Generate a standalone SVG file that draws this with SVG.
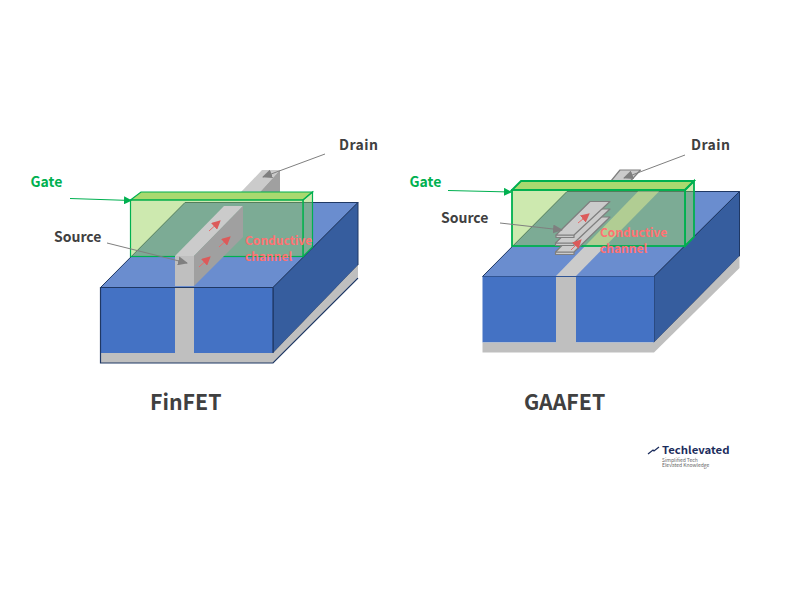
<svg xmlns="http://www.w3.org/2000/svg" width="795" height="592" viewBox="0 0 795 592">
<style>
text{font-family:"Noto Sans CJK KR","Noto Sans","Liberation Sans",sans-serif;font-weight:700}
.lab{font-size:14px;fill:#404040}
.green{font-size:14px;fill:#00b050}
.red{font-size:12px;fill:#ff7272}
.title{font-size:21.300px;fill:#404040}
.front{fill:#4472c4}
.top{fill:#6a8dcf;stroke:#1f3864;stroke-width:1}
.right{fill:#365d9e;stroke:#1f3864;stroke-width:1}
.gray{fill:#bfbfbf}
.edge{fill:none;stroke:#1f3864;stroke-width:1.2}
.gfill{fill:#92d050;fill-opacity:.46;stroke:#00b050;stroke-width:1.2}
.gtop{fill:#a9d96f;stroke:#00b050;stroke-width:1.2}
.ftop{fill:#cbcbcb}
.fside{fill:#a0a0a0}
.sheet{fill:#cbcbcb;stroke:#7f7f7f;stroke-width:1.2;stroke-linejoin:round}
.a-gray{fill:none;stroke:#7f7f7f;stroke-width:1;marker-end:url(#mg)}
.a-green{fill:none;stroke:#00b050;stroke-width:1;marker-end:url(#mn)}
.a-red{fill:none;stroke:#e96a6a;stroke-width:1;marker-end:url(#mr)}
</style>
<defs>
<marker id="mg" markerWidth="10" markerHeight="9" refX="9" refY="4.500" orient="auto" markerUnits="userSpaceOnUse"><path d="M0 0L10 4.500L0 9Z" fill="#7f7f7f"/></marker>
<marker id="mn" markerWidth="8" markerHeight="8" refX="7" refY="4" orient="auto" markerUnits="userSpaceOnUse"><path d="M0 0L8 4L0 8Z" fill="#00b050"/></marker>
<marker id="mr" markerWidth="9" markerHeight="9" refX="8" refY="4.500" orient="auto" markerUnits="userSpaceOnUse"><path d="M0 0L9 4.500L0 9Z" fill="#dc5a5a"/></marker>
</defs>
<rect width="795" height="592" fill="#ffffff"/>

<g id="finfet-substrate">
<polygon class="top" points="100.5,287.500 273,287.500 358,202.5 185,202.5"/>
<polygon class="right" points="273,287.500 358,202.5 358,265 273,353"/>
<polygon class="gray" points="273,353 358,265 358,277 273,363"/>
<rect class="front" x="100.5" y="287.500" width="172.5" height="65.500"/>
<rect class="gray" x="100.5" y="353" width="172.5" height="10"/>
<rect class="gray" x="175" y="288" width="19" height="66"/>
<polyline class="edge" points="273,353 273,287.500 100.5,287.500 100.5,363 273,363 358,278"/>
</g>
<g id="finfet-drain">
<polygon class="ftop" points="262,170 280,170 260,192 241,192"/>
<polygon class="fside" points="280,170 280,192 260,192"/>
</g>
<g id="finfet-gate">
<polygon class="gtop" points="130.5,200 141,192 312.5,192 303,200"/>
<polygon class="gfill" points="303,200 312.5,192 312.5,247 303,256.5"/>
<rect class="gfill" x="130.5" y="200" width="172.5" height="56.5"/>
</g>
<g id="finfet-source">
<polygon class="ftop" points="175,256 194,256 243,206 224,206"/>
<polygon class="fside" points="194,256 243,206 243,237 194,286"/>
<rect class="gray" x="175" y="256" width="19" height="30"/>
</g>

<g id="gaafet-substrate">
<polygon class="top" points="482.5,276.500 654,276.500 739.5,191.5 567,191.5"/>
<polygon class="right" points="654,276.500 739.5,191.5 739.5,256 654,342.5"/>
<polygon class="gray" points="654,342.5 739.5,256 739.5,268 654,352.5"/>
<rect class="front" x="482.5" y="276.500" width="171.500" height="66"/>
<rect class="gray" x="482.5" y="342.500" width="171.500" height="10"/>
<polygon fill="#cbcbcb" points="556,276 576,276 659,191.500 638,191.500"/>
<rect class="gray" x="556" y="277" width="20" height="66"/>
</g>
<g id="gaafet-drain">
<polygon class="sheet" points="620,170 640.500,170 630.500,181 611,181"/>
</g>
<g id="gaafet-gate">
<polygon class="gtop" style="stroke-width:1.8" points="512,190 521,181 694,181 685,190"/>
<polygon class="gfill" style="stroke-width:1.8" points="685,190 694,181 694,237 685,246"/>
<rect class="gfill" style="stroke-width:1.8" x="512" y="190" width="173" height="56"/>
</g>
<g id="gaafet-source">
<rect class="sheet" x="555.500" y="252" width="18.500" height="2.500"/>
<polygon class="sheet" points="590,217 610,217 574,252 555.500,252"/>
<rect class="sheet" x="555.500" y="243" width="18.500" height="2.500"/>
<polygon class="sheet" points="590,209 610,209 574,243 555.500,243"/>
<rect class="sheet" x="556" y="235" width="18" height="2.500"/>
<polygon class="sheet" points="590,201.500 610,201.500 574,235 556,235"/>
</g>

<g id="connectors">
<path class="a-green" d="M70,198.500L131,200.500"/>
<path class="a-gray" d="M107,243L187,263"/>
<path class="a-gray" d="M325,154L263,177"/>
<path class="a-red" d="M199,267L210,257"/>
<path class="a-red" d="M219,247L230,237"/>
<path class="a-red" d="M209,231L220,221"/>
<path class="a-green" d="M448,190.500L511,192"/>
<path class="a-gray" d="M500,223L562,230"/>
<path class="a-gray" d="M685,155L624,178"/>
<path class="a-red" d="M578,223L589,214"/>
<path class="a-red" d="M571,250L581,240"/>
</g>

<g id="labels">
<text class="lab" x="339" y="150" textLength="39">Drain</text>
<text class="green" x="30.500" y="187">Gate</text>
<text class="lab" x="54" y="242">Source</text>
<text class="red" x="245" y="245">Conductive</text>
<text class="red" x="245" y="261">channel</text>
<text class="title" x="150" y="410">FinFET</text>
<text class="lab" x="691" y="150" textLength="39">Drain</text>
<text class="green" x="409.500" y="187">Gate</text>
<text class="lab" x="441" y="223">Source</text>
<text class="red" x="600" y="237">Conductive</text>
<text class="red" x="600" y="253">channel</text>
<text class="title" x="524" y="410">GAAFET</text>
</g>

<g id="logo">
<path d="M648,454L653,450L654,451L659,447" fill="none" stroke="#1b2c5c" stroke-width="1.300"/>
<text x="662" y="454" textLength="67.500" lengthAdjust="spacingAndGlyphs" style="font-size:10.500px;fill:#1b2c5c">Techlevated</text>
<text x="662" y="461.500" style="font-size:5px;font-weight:400;fill:#666666">Simplified Tech</text>
<text x="662" y="467" style="font-size:5px;font-weight:400;fill:#666666">Elevated Knowledge</text>
</g>
</svg>
